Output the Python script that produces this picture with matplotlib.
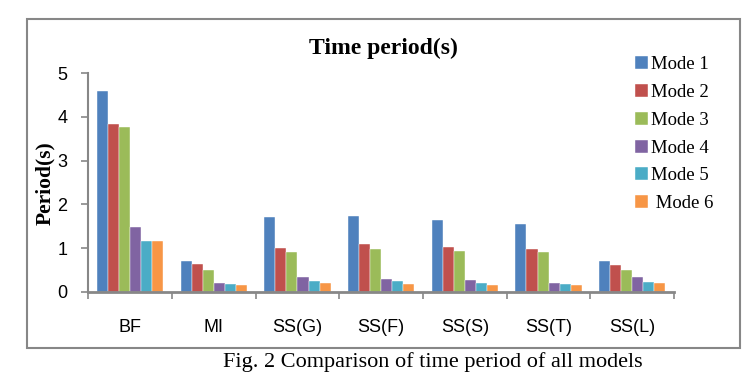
import numpy as np
import matplotlib
matplotlib.use("Agg")
import matplotlib.pyplot as plt
from matplotlib.patches import Rectangle

# --- Data ---
models = ["BF", "MI", "SS(G)", "SS(F)", "SS(S)", "SS(T)", "SS(L)"]
mode_labels = ["Mode 1", "Mode 2", "Mode 3", "Mode 4", "Mode 5", " Mode 6"]
mode1 = [4.60, 0.71, 1.71, 1.73, 1.64, 1.55, 0.71]
mode2 = [3.85, 0.64, 1.00, 1.09, 1.02, 0.97, 0.62]
mode3 = [3.77, 0.50, 0.91, 0.97, 0.94, 0.91, 0.49]
mode4 = [1.48, 0.21, 0.34, 0.30, 0.27, 0.21, 0.33]
mode5 = [1.17, 0.18, 0.25, 0.24, 0.21, 0.18, 0.22]
mode6 = [1.15, 0.15, 0.21, 0.18, 0.16, 0.16, 0.21]
series = [mode1, mode2, mode3, mode4, mode5, mode6]
colors = ["#4F81BD", "#C0504D", "#9BBB59", "#8064A2", "#4BACC6", "#F79646"]

serif = ["Liberation Serif", "DejaVu Serif"]
sans = ["Liberation Sans Narrow", "Liberation Sans", "DejaVu Sans"]
gray = "#878787"

fig = plt.figure(figsize=(7.54, 3.79), dpi=100)
ax = fig.add_axes([0.117, 0.2303, 0.7771, 0.5763])

x = np.arange(len(models))
bw = 0.132
for i, (vals, c, lab) in enumerate(zip(series, colors, mode_labels)):
    ax.bar(x + (i - 2.5) * bw, vals, width=bw, color=c, label=lab,
           edgecolor="white", linewidth=0.3)

ax.set_xlim(-0.5, len(models) - 0.5)
ax.set_ylim(0, 5)
ax.set_yticks(range(6))

# category boundary ticks, labels at centres
ax.set_xticks(np.arange(-0.5, len(models), 1.0))
ax.set_xticklabels([])
ax.set_xticks(x, minor=True)
ax.set_xticklabels(models, minor=True, family=sans, fontsize=13)
ax.tick_params(axis="x", which="major", length=5, color=gray, width=1.2)
ax.tick_params(axis="x", which="minor", length=0, pad=20)
ax.tick_params(axis="y", length=5, color=gray, width=1.2, pad=10)
for t in ax.get_yticklabels():
    t.set_family(sans)
    t.set_fontsize(13)

for s in ["top", "right"]:
    ax.spines[s].set_visible(False)
ax.spines["left"].set_color(gray)
ax.spines["bottom"].set_color(gray)
ax.spines["left"].set_linewidth(1.5)
ax.spines["bottom"].set_linewidth(2)

fig.text(0.508, 0.871, "Time period(s)", family=serif, fontsize=17,
         fontweight="bold", ha="center", va="center")
fig.text(0.0597, 0.517, "Period(s)", family=serif, fontsize=15.5,
         fontweight="bold", ha="center", va="center", rotation=90)

leg = ax.legend(loc="upper left", bbox_to_anchor=(0.842, 0.852), bbox_transform=fig.transFigure,
                frameon=False, prop={"family": serif, "size": 13.5},
                handlelength=0.7, handleheight=0.7, handletextpad=0.15,
                labelspacing=0.57, borderaxespad=0, borderpad=0)

# outer chart border
fig.patches.append(Rectangle((0.0354, 0.081), 0.946, 0.869, transform=fig.transFigure,
                             fill=False, edgecolor=gray, linewidth=1.5))

fig.text(0.574, 0.0456, "Fig. 2 Comparison of time period of all models", family=serif,
         fontsize=16, ha="center", va="center")

fig.savefig("out.png", dpi=100)
